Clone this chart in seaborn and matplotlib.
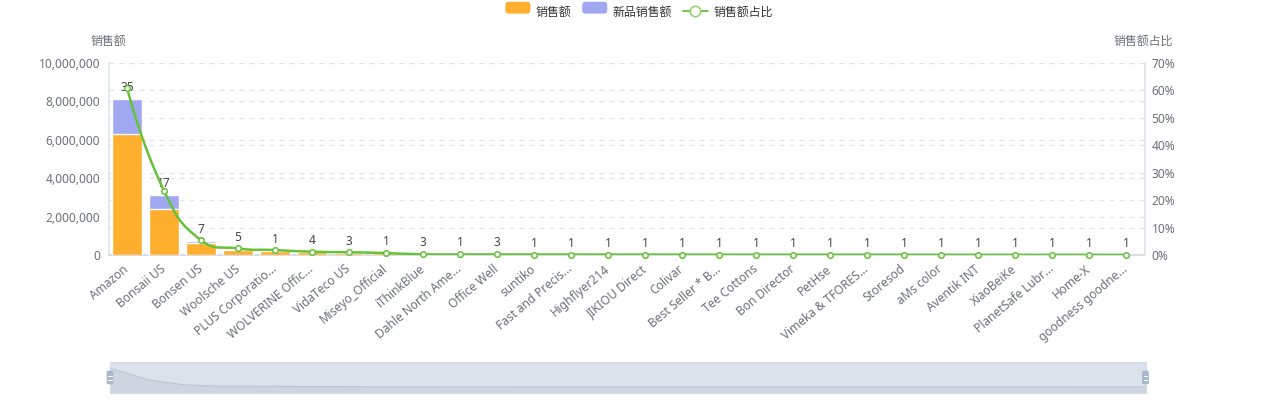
import numpy as np
import pandas as pd
import seaborn as sns
import matplotlib
matplotlib.use("Agg")
import matplotlib.pyplot as plt
from matplotlib.path import Path
from matplotlib.patches import PathPatch, FancyBboxPatch, Rectangle
from matplotlib.lines import Line2D
from matplotlib.legend_handler import HandlerBase

# ---------------- data ----------------
categories = [
    "Amazon", "Bonsaii US", "Bonsen US", "Woolsche US", "PLUS Corporatio...",
    "WOLVERINE Offic...", "VidaTeco US", "Miseyo_Official", "iThinkBlue",
    "Dahle North Ame...", "Office Well", "suntiko", "Fast and Precis...",
    "Highflyer214", "JIKIOU Direct", "Colivar", "Best Seller * B...",
    "Tee Cottons", "Bon Director", "PetHse", "Vimeka & TFORES...", "Storesod",
    "aMs color", "Aventik INT", "XiaoBeiKe", "PlanetSafe Lubr...", "Home-X",
    "goodness goodne...",
]
sales = [6320000, 2380000, 640000, 270000, 220000, 150000, 120000, 80000,
         35000, 30000, 28000, 25000, 24000, 20000, 20000, 16000, 16000,
         14000, 13000, 13000, 12000, 11000, 11000, 10000, 10000, 9000,
         8000, 7000]
new_sales = [1780000, 720000, 80000, 50000, 10000, 5000, 5000, 3000,
             0, 0, 0, 0, 0, 0, 0, 0, 0, 0, 0, 0, 0, 0, 0, 0, 0, 0, 0, 0]
share = [61.0, 23.5, 5.4, 2.4, 1.8, 1.2, 1.0, 0.7, 0.25, 0.22, 0.2, 0.18,
         0.17, 0.15, 0.15, 0.12, 0.12, 0.1, 0.1, 0.1, 0.09, 0.08, 0.08,
         0.07, 0.07, 0.06, 0.06, 0.05]
counts = [35, 17, 7, 5, 1, 4, 3, 1, 3, 1, 3, 1, 1, 1, 1, 1, 1, 1, 1, 1, 1,
          1, 1, 1, 1, 1, 1, 1]
left_ticks = [0, 2000000, 4000000, 6000000, 8000000, 10000000]
right_ticks = [0, 10, 20, 30, 40, 50, 60, 70]
legend_labels = ["销售额", "新品销售额", "销售额占比"]

ORANGE = "#FFAE2E"
BLUE = "#A0A8F2"
GREEN = "#67C23A"
TXT = "#6E7079"
GRID = "#E0E6F1"
FS = 8.6

df = pd.DataFrame({"cat": categories, "sales": sales, "new": new_sales})
df["total"] = df["sales"] + df["new"]

sns.set_theme(style="white")
plt.rcParams["font.family"] = ["Noto Sans", "Noto Sans CJK SC", "DejaVu Sans"]

W, H = 1278, 400
fig = plt.figure(figsize=(W / 100, H / 100), dpi=100)
L, R, T, B = 108.5, 1144.5, 63, 255
ax = fig.add_axes([L / W, 1 - B / H, (R - L) / W, (B - T) / H])

sns.barplot(data=df, x="cat", y="total", color=BLUE, saturation=1, width=0.81,
            ax=ax, zorder=2)
sns.barplot(data=df, x="cat", y="sales", color=ORANGE, saturation=1, width=0.81,
            ax=ax, zorder=3)
n = len(categories)
ax.set_xlim(-0.5, n - 0.5)
ax.set_ylim(0, left_ticks[-1])
ax.set_xlabel("")
ax.set_ylabel("")

# gridlines (both axes' ticks) below bars
for v in left_ticks[1:]:
    ax.axhline(v, color=GRID, lw=0.9, ls=(0, (4, 4)), zorder=0)
for p in right_ticks[1:]:
    ax.axhline(p / right_ticks[-1] * left_ticks[-1], color=GRID, lw=0.9,
               ls=(0, (4, 4)), zorder=0)

ax.set_yticks(left_ticks)
ax.set_yticklabels([f"{v:,}" for v in left_ticks])
ax.tick_params(axis="y", length=0, pad=6, labelsize=FS, labelcolor=TXT)
ax.set_xticks(range(n))
ax.set_xticklabels(categories, rotation=40, ha="right", va="center",
                   rotation_mode="anchor")
ax.tick_params(axis="x", length=0, pad=9, labelsize=FS, labelcolor=TXT)
ax.set_xticks(np.arange(-0.5, n, 1), minor=True)
ax.tick_params(axis="x", which="minor", length=5, color="#D4D8E0", width=0.9)
ax.spines["top"].set_visible(False)
ax.spines["bottom"].set_color("#D4D8E0")
ax.spines["left"].set_color(GRID)
ax.spines["right"].set_color(GRID)

# count labels above stacked bars
for i, (tot, c) in enumerate(zip(df["total"], counts)):
    ax.annotate(str(c), (i, tot), xytext=(0, 5), textcoords="offset pixels",
                ha="center", va="bottom", fontsize=FS, color="#464646",
                zorder=6, annotation_clip=False)

# secondary axis for share line
ax2 = ax.twinx()
ax2.set_ylim(0, right_ticks[-1])
ax2.set_yticks(right_ticks)
ax2.set_yticklabels([f"{p}%" for p in right_ticks])
ax2.tick_params(axis="y", length=0, pad=5, labelsize=FS, labelcolor=TXT)
for s in ["top", "left", "bottom"]:
    ax2.spines[s].set_visible(False)
ax2.spines["right"].set_color(GRID)
ax2.grid(False)

# smooth line (echarts-like bezier smoothing)
xs = np.arange(n, dtype=float)
ys = np.array(share, dtype=float)
sx = (R - L) / n
sy = (B - T) / right_ticks[-1]
px, py = xs * sx, ys * sy
smooth = 0.5
cpn, cpp = [None] * n, [None] * n
ymin, ymax = py.min(), py.max()
for i in range(n):
    if i == 0 or i == n - 1:
        cpn[i] = cpp[i] = (px[i], py[i])
        continue
    vx, vy = px[i + 1] - px[i - 1], py[i + 1] - py[i - 1]
    l0 = np.hypot(px[i] - px[i - 1], py[i] - py[i - 1])
    l1 = np.hypot(px[i + 1] - px[i], py[i + 1] - py[i])
    r = l1 / (l0 + l1)
    a = (px[i] + vx * smooth * r, np.clip(py[i] + vy * smooth * r, ymin, ymax))
    b = (px[i] - vx * smooth * (1 - r), np.clip(py[i] - vy * smooth * (1 - r), ymin, ymax))
    cpn[i], cpp[i] = a, b
verts = [(px[0], py[0])]
codes = [Path.MOVETO]
for i in range(1, n):
    verts += [cpn[i - 1], cpp[i], (px[i], py[i])]
    codes += [Path.CURVE4] * 3
verts = [(vx_ / sx, vy_ / sy) for vx_, vy_ in verts]
ax2.add_patch(PathPatch(Path(verts, codes), fill=False, edgecolor=GREEN,
                        lw=1.8, zorder=4, capstyle="round", joinstyle="round"))
ax2.plot(xs, ys, ls="none", marker="o", ms=4.0, mfc="white", mec=GREEN,
         mew=1.1, zorder=5, clip_on=False)

# axis titles
fig.text(108.5 / W, 1 - 41 / H, "销售额", ha="center", va="center",
         fontsize=FS, color=TXT)
fig.text(1143 / W, 1 - 41 / H, "销售额占比", ha="center", va="center",
         fontsize=FS, color=TXT)


# legend
class RoundRectHandler(HandlerBase):
    def create_artists(self, legend, orig, xd, yd, width, height, fontsize, trans):
        p = FancyBboxPatch((xd, yd), width, height,
                           boxstyle="round,pad=0,rounding_size=2.5",
                           facecolor=orig.get_facecolor(), edgecolor="none",
                           transform=trans)
        return [p]


h1 = Rectangle((0, 0), 1, 1, facecolor=ORANGE)
h2 = Rectangle((0, 0), 1, 1, facecolor=BLUE)
h3 = Line2D([], [], color=GREEN, lw=1.3, marker="o", ms=7.5, mfc="white",
            mec="#8ED16B", mew=1.1)
fig.legend([h1, h2, h3], legend_labels, loc="center",
           bbox_to_anchor=(639 / W, 1 - 12 / H), ncol=3, frameon=False,
           fontsize=FS, labelcolor="#333333", handlelength=2.1,
           handleheight=1.15, handletextpad=0.45, columnspacing=0.9,
           handler_map={Rectangle: RoundRectHandler()})

# data zoom slider
sl = fig.add_axes([110 / W, 1 - 392.7 / H, (1145.5 - 110) / W, 30.4 / H])
smax = max(sales)
sl.set_xlim(0, n - 1)
sl.set_ylim(-0.3 * smax, 1.3 * smax)
sl.set_facecolor("#DCE2EB")
sl.fill_between(xs, np.array(sales), -0.3 * smax, color="#CED5E0", lw=0)
sl.plot(xs, sales, color="#BCC5D4", lw=0.8)
sl.set_xticks([])
sl.set_yticks([])
for s in sl.spines.values():
    s.set_color("#D2DBEE")
    s.set_linewidth(0.8)
for hx in [110, 1145.5]:
    hb = FancyBboxPatch(((hx - 3) / W, 1 - 384 / H), 6 / W, 13 / H,
                        boxstyle="round,pad=0,rounding_size=0.002",
                        transform=fig.transFigure, facecolor="#A7B7CC",
                        edgecolor="#A7B7CC", lw=0.5)
    fig.patches.append(hb)
    for yy in [375.5, 379.5]:
        fig.lines.append(Line2D([(hx - 1.8) / W, (hx + 1.8) / W],
                                [1 - yy / H, 1 - yy / H], color="white",
                                lw=0.8, transform=fig.transFigure))

fig.savefig("out.png", dpi=100)
